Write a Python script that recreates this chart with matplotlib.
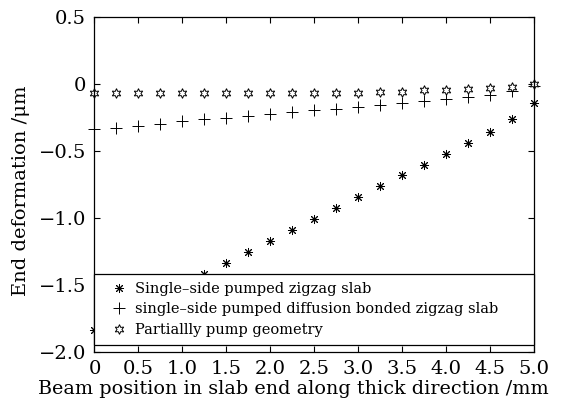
import matplotlib
matplotlib.use("Agg")
import matplotlib.pyplot as plt

plt.rcParams['font.family'] = ['DejaVu Serif']
plt.rcParams['mathtext.fontset'] = 'dejavuserif'

# beam position along thick direction (mm)
x_pos = [0, 0.25, 0.5, 0.75, 1.0, 1.25, 1.5, 1.75, 2.0, 2.25, 2.5,
         2.75, 3.0, 3.25, 3.5, 3.75, 4.0, 4.25, 4.5, 4.75, 5.0]

# end deformation (um)
single_side = [-1.84, -1.76, -1.68, -1.59, -1.51, -1.42, -1.339, -1.252, -1.172, -1.09, -1.007,
               -0.923, -0.841, -0.76, -0.679, -0.604, -0.522, -0.442, -0.355, -0.262, -0.143]
bonded = [-0.333, -0.325, -0.31, -0.295, -0.278, -0.263, -0.252, -0.24, -0.225, -0.208, -0.195,
          -0.185, -0.17, -0.158, -0.14, -0.125, -0.11, -0.097, -0.08, -0.05, -0.014]
partial = [-0.066, -0.066, -0.066, -0.066, -0.066, -0.066, -0.066, -0.066, -0.066, -0.065, -0.065,
           -0.065, -0.065, -0.062, -0.056, -0.047, -0.043, -0.037, -0.028, -0.021, 0.0]

labels = ["Single\u2013side pumped zigzag slab",
          "single\u2013side pumped diffusion bonded zigzag slab",
          "Partiallly pump geometry"]

x_ticks = [0, 0.5, 1.0, 1.5, 2.0, 2.5, 3.0, 3.5, 4.0, 4.5, 5.0]
x_ticklabels = ["0", "0.5", "1.0", "1.5", "2.0", "2.5", "3.0", "3.5", "4.0", "4.5", "5.0"]
y_ticks = [0.5, 0, -0.5, -1.0, -1.5, -2.0]
y_ticklabels = ["0.5", "0", "\u22120.5", "\u22121.0", "\u22121.5", "\u22122.0"]

fig = plt.figure(figsize=(5.74, 4.03), dpi=100)
ax = fig.add_axes([0.1646, 0.1273, 0.765, 0.830])

ax.plot(x_pos, single_side, linestyle="none", marker=(8, 2, 0), markersize=6.5,
        color="black", markeredgewidth=0.7, label=labels[0], clip_on=False)
ax.plot(x_pos, bonded, linestyle="none", marker="+", markersize=8,
        color="black", markeredgewidth=0.7, label=labels[1], clip_on=False)
ax.plot(x_pos, partial, linestyle="none", marker=(6, 1, 0), markersize=7,
        color="black", markerfacecolor="white", markeredgewidth=0.7,
        label=labels[2], clip_on=False)

ax.set_xlim(0, 5)
ax.set_ylim(-2.0, 0.5)
ax.set_xticks(x_ticks)
ax.set_xticklabels(x_ticklabels)
ax.set_yticks(y_ticks)
ax.set_yticklabels(y_ticklabels)
ax.tick_params(direction="in", length=4, width=0.8, top=True, right=True,
               labelsize=14, pad=6, colors="black")
for s in ax.spines.values():
    s.set_linewidth(0.9)

ax.set_xlabel("Beam position in slab end along thick direction /mm", fontsize=13.8)
ax.xaxis.set_label_coords(0.454, -0.085)
ax.set_ylabel("End deformation /\u03bcm", fontsize=14)
ax.yaxis.set_label_coords(-0.147, 0.48)

leg = ax.legend(loc="lower left", bbox_to_anchor=(0, 0.02, 1, 0.214), mode="expand",
                borderaxespad=0, fontsize=10.5, frameon=True, fancybox=False,
                framealpha=1, edgecolor="black", handlelength=2.2, handletextpad=0.05,
                labelspacing=0.45, borderpad=0.55)
leg.get_frame().set_linewidth(0.9)

fig.savefig("out.png", dpi=100)
